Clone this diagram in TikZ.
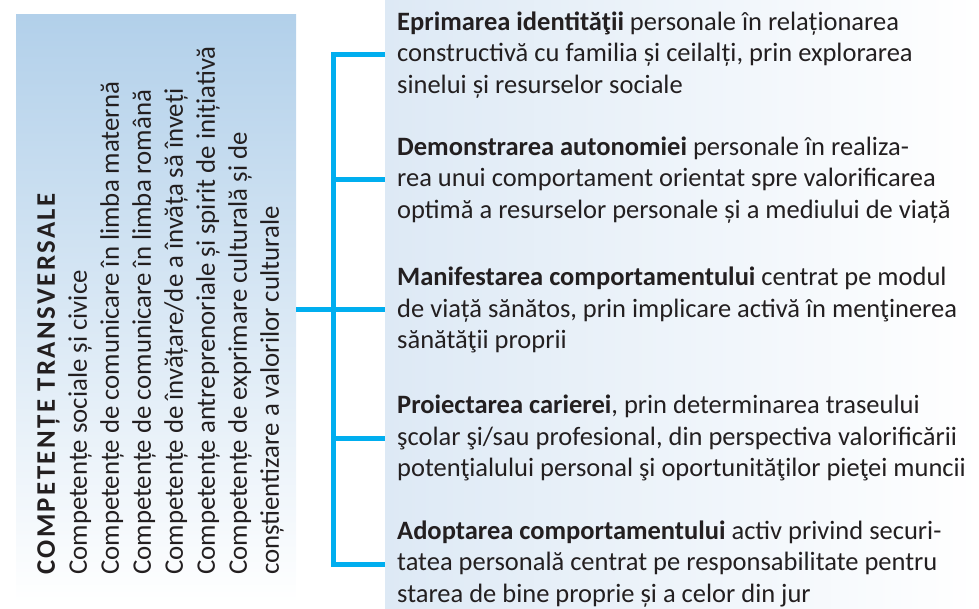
\documentclass[tikz,border=0pt]{standalone}
\usepackage{fontspec}
\setmainfont{Carlito}
\usetikzlibrary{positioning}
\definecolor{linkblue}{HTML}{00AEEF}
\definecolor{boxblue}{HTML}{B2D0EA}
\definecolor{panelblue}{HTML}{DDE9F5}
\definecolor{ink}{HTML}{231F20}
\tikzset{every node/.style={ % Sets the text of every node
text=ink,
font=\fontsize{26.5}{31.5}\selectfont},
item/.style={ % One outcome on the right
anchor=west, align=left,
inner xsep=12pt, inner ysep=0pt},
link/.style={ % The blue connectors
draw=linkblue, line width=5pt}}

\begin{document}
\begin{tikzpicture}[x=1pt, y=-1pt]

    \useasboundingbox (0,0) rectangle (979,609);
    \fill[left color=panelblue, right color=white] (385,0) rectangle (979,609);

    \node[anchor=north west, inner sep=0pt, minimum width=280pt, minimum height=589pt,
      top color=boxblue, bottom color=white] (box) at (16,14) {};
    \node[rotate=90, anchor=north west, align=left, inner sep=0pt,
      font=\fontsize{26.8}{32}\selectfont] (comp) at (37,575)
      {{\bfseries\addfontfeature{LetterSpace=9}COMPETENȚE TRANSVERSALE}\\
       Competențe sociale și civice\\
       Competențe de comunicare în limba maternă\\
       Competențe de comunicare în limba română\\
       Competențe de învățare/de a învăța să înveți\\
       Competențe antreprenoriale și spirit de inițiativă\\
       Competențe de exprimare culturală și de\\
       conștientizare a valorilor culturale};

    \node[item] (i1) at (385,55)
      {\textbf{Eprimarea identităţii} personale în relaționarea\\
       constructivă cu familia și ceilalți, prin explorarea\\
       sinelui și resurselor sociale};
    \node[item] (i2) at (385,180)
      {\textbf{Demonstrarea autonomiei} personale în realiza-\\
       rea unui comportament orientat spre valorificarea\\
       optimă a resurselor personale și a mediului de viață};
    \node[item] (i3) at (385,310)
      {\textbf{Manifestarea comportamentului} centrat pe modul\\
       de viață sănătos, prin implicare activă în menţinerea\\
       sănătăţii proprii};
    \node[item] (i4) at (385,438)
      {\textbf{Proiectarea carierei}, prin determinarea traseului\\
       şcolar şi/sau profesional, din perspectiva valorificării\\
       potenţialului personal şi oportunităţilor pieţei muncii};
    \node[item] (i5) at (385,564)
      {\textbf{Adoptarea comportamentului} activ privind securi-\\
       tatea personală centrat pe responsabilitate pentru\\
       starea de bine proprie și a celor din jur};

    \coordinate (hub) at (333,310);
    \draw[link] (i1.west) -| (hub |- i5.west) -- (i5.west);
    \draw[link] (box.east |- hub) -- (hub);
    \draw[link] (hub |- i2.west) -- (i2.west);
    \draw[link] (hub |- i3.west) -- (i3.west);
    \draw[link] (hub |- i4.west) -- (i4.west);

\end{tikzpicture}
\end{document}
